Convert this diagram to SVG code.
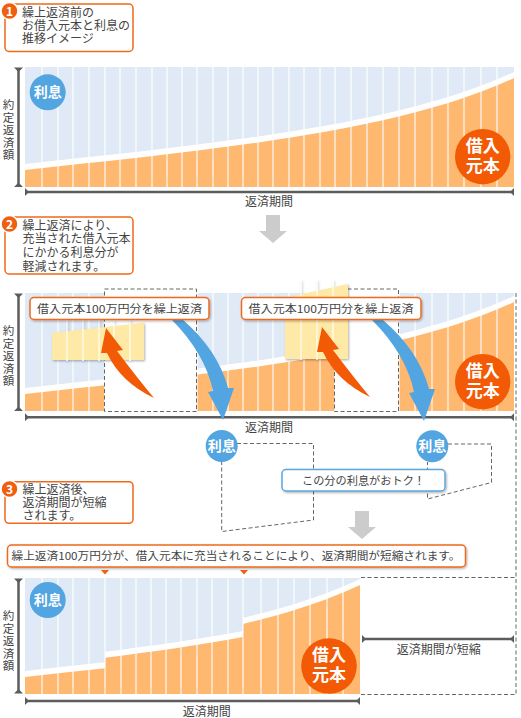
<svg xmlns="http://www.w3.org/2000/svg" xmlns:xlink="http://www.w3.org/1999/xlink" width="521" height="718" viewBox="0 0 521 718">
<style>
text{font-family:"Noto Sans CJK JP","Noto Sans CJK SC",sans-serif;fill:#444}
.t12{font-size:12px}
.t11{font-size:11px}
.sx{font-size:12px}
.vt{font-size:11.5px;writing-mode:vertical-rl;letter-spacing:1px}
.c{text-anchor:middle}
.box{fill:#fff;stroke:#ef6a1a;stroke-width:1.5}
.bbox{fill:#fff;stroke:#5aa6e0;stroke-width:1.5}
.axis{stroke:#5c5c5c;stroke-width:2.5;fill:none}
.mk{fill:#5c5c5c}
.dash{fill:none;stroke:#666;stroke-width:1;stroke-dasharray:4 2.5}
.wdash{fill:#fff;stroke:#666;stroke-width:1;stroke-dasharray:4 2.5}
.bg{fill:#dfeaf6}
.or{fill:#ffb870}
.wt{fill:#fff}
.st{stroke:#fff;stroke-width:1.3;opacity:.85;fill:none}
.ci{fill:#52a5e1}
.co{fill:#f25a05}
.wl{fill:#fff;font-weight:bold}
.yl{fill:#ffe9a6}
.ga{fill:#cccccc}
.ba{fill:#52a5e1}
.oa{fill:#f25a05}
.num{fill:#f05f10;stroke:#fff;stroke-width:1.5}
</style>
<defs>
<filter id="sh" x="-10%" y="-30%" width="130%" height="170%"><feDropShadow dx="1" dy="1.2" stdDeviation="0.8" flood-color="#000" flood-opacity="0.3"/></filter>
<g id="curve"><path class="wt" d="M25,187V164C210,144 400,126 514,72V187Z"/><path class="or" d="M25,187V170C210,150 400,132 514,78V187Z"/></g>
<path id="st1" class="st" d="M42,0V120M58,0V120M73,0V120M89,0V120M105,0V120M120,0V120M136,0V120M152,0V120M167,0V120M182,0V120M197,0V120M213,0V120M228,0V120M243,0V120M258,0V120M273,0V120M289,0V120M304,0V120M320,0V120M335,0V120M351,0V120M367,0V120M383,0V120M399,0V120M415,0V120M432,0V120M448,0V120M464,0V120M481,0V120M497,0V120"/>
<clipPath id="cA"><rect x="25" y="0" width="80" height="200"/></clipPath>
<clipPath id="cB"><rect x="197" y="0" width="138" height="200"/></clipPath>
<clipPath id="cC"><rect x="397" y="0" width="117" height="200"/></clipPath>
</defs>

<!-- Section 1 -->
<g id="section1">
<rect class="box" x="5" y="4" width="128" height="47.5" rx="4"/>
<circle class="num" cx="9.5" cy="11" r="8.5"/>
<text class="wl c" x="9.5" y="15.5" font-size="12">1</text>
<text class="sx" x="22" y="17">繰上返済前の</text>
<text class="sx" x="22" y="30">お借入元本と利息の</text>
<text class="sx" x="22" y="43">推移イメージ</text>
</g>

<!-- Chart 1 -->
<g id="chart1">
<rect class="bg" x="25" y="67" width="489" height="120"/>
<use xlink:href="#curve"/>
<use xlink:href="#st1" transform="translate(0,67)"/>
<path class="axis" d="M18.5,68V187M25,192H514"/>
<path class="mk" d="M14,67.5H23L18.5,72ZM14,187H23L18.5,182.5ZM25,188V196L29,192ZM514,188V196L510,192Z"/>
<text class="vt" x="8.5" y="99">約定返済額</text>
<text class="t12 c" x="269" y="206">返済期間</text>
<circle class="ci" cx="47.7" cy="92.3" r="18"/>
<text class="wl c" x="47.7" y="97.3" font-size="14">利息</text>
<circle class="co" cx="482.7" cy="156.7" r="27.7"/>
<text class="wl c" x="482.7" y="151.7" font-size="17">借入</text>
<text class="wl c" x="482.7" y="171.7" font-size="17">元本</text>
</g>

<!-- Section 2 -->
<g id="section2">
<rect class="box" x="5" y="217" width="128" height="57" rx="4"/>
<circle class="num" cx="9.5" cy="224" r="8.5"/>
<text class="wl c" x="9.5" y="228.5" font-size="12">2</text>
<text class="sx" x="22.5" y="229.5">繰上返済により、</text>
<text class="sx" x="22.5" y="243.3">充当された借入元本</text>
<text class="sx" x="22.5" y="257.1">にかかる利息分が</text>
<text class="sx" x="22.5" y="270.9">軽減されます。</text>
</g>

<!-- Chart 2 -->
<g id="chart2">
<rect class="bg" x="25" y="293" width="489" height="118"/>
<g transform="translate(0,224)"><use xlink:href="#curve"/></g>
<use xlink:href="#st1" transform="translate(0,293)"/>
<rect class="wdash" x="104.5" y="289" width="92" height="122.5"/>
<rect class="wdash" x="334.5" y="289" width="64" height="122.5"/>
<path class="axis" d="M18.5,294V411M25,417.3H514"/>
<path class="mk" d="M14,293.5H23L18.5,298ZM14,411H23L18.5,406.5ZM25,413.3V421.3L29,417.3ZM514,413.3V421.3L510,417.3Z"/>
<text class="vt" x="8.5" y="325">約定返済額</text>
<text class="t12 c" x="269" y="432">返済期間</text>
<circle class="co" cx="482.7" cy="381.7" r="27.7"/>
<text class="wl c" x="482.7" y="376.7" font-size="17">借入</text>
<text class="wl c" x="482.7" y="396.7" font-size="17">元本</text>
</g>

<!-- Lifted blocks -->
<g id="block1" filter="url(#sh)">
<path class="yl" d="M52,333L144,322.7V360H52Z"/>
<path class="st" d="M67,320V361M83,320V361M99,320V361M114,320V361M130,320V361"/>
</g>
<g id="block2" filter="url(#sh)">
<path class="yl" d="M285,298L348,284V359H285Z"/>
<path class="st" d="M301,280V360M317,280V360M333,280V360"/>
</g>

<!-- Connectors -->
<g id="connectors">
<path class="ga" d="M266,215H280V231H287L273,243L259,231H266Z"/>
<path class="ga" d="M266,215H280V231H287L273,243L259,231H266Z" transform="translate(89,296)"/>
<path class="oa" d="M154,398Q138.5,379.5 117,351L123,350L106,328L101,353L107,353Q120.5,382 154,398Z"/>
<path class="oa" d="M154,398Q138.5,379.5 117,351L123,350L106,328L101,353L107,353Q120.5,382 154,398Z" transform="translate(216,-1)"/>
<path class="ba" d="M171,319L182,319Q218,350 228,388L234,388L223,420L208,392L213,391Q205,353 171,319Z"/>
<path class="ba" d="M171,319L182,319Q218,350 228,388L234,388L223,420L208,392L213,391Q205,353 171,319Z" transform="translate(201,1)"/>
<path class="dash" d="M237,443.5H313.5V520L221.7,531.5V462"/>
<path class="dash" d="M448,444H491.5V482.5L427.5,499V462"/>
<path class="dash" d="M516,293V694.5H361M361,577.5H516"/>
</g>

<!-- Labels -->
<g id="label1">
<rect class="box" x="30" y="297.5" width="179" height="22" rx="4" filter="url(#sh)"/>
<text class="t11 c" x="119.5" y="312.5" textLength="165" lengthAdjust="spacingAndGlyphs">借入元本100万円分を繰上返済</text>
</g>
<g id="label2">
<rect class="box" x="241.5" y="297.5" width="179.5" height="22" rx="4" filter="url(#sh)"/>
<text class="t11 c" x="331" y="312.5" textLength="165" lengthAdjust="spacingAndGlyphs">借入元本100万円分を繰上返済</text>
</g>

<!-- Interest bubbles -->
<g id="bubble1">
<circle class="ci" cx="221.7" cy="446" r="16"/>
<text class="wl c" x="221.7" y="451" font-size="14">利息</text>
</g>
<g id="bubble2">
<circle class="ci" cx="432.3" cy="446.3" r="16"/>
<text class="wl c" x="432.3" y="451.3" font-size="14">利息</text>
</g>
<g id="otoku">
<rect class="bbox" x="282" y="469.5" width="163" height="21.5" rx="4" filter="url(#sh)"/>
<text class="t11 c" x="363.5" y="484.5" textLength="123" lengthAdjust="spacingAndGlyphs">この分の利息がおトク！</text>
</g>

<!-- Section 3 -->
<g id="section3">
<rect class="box" x="5" y="481.7" width="128" height="41.6" rx="4"/>
<circle class="num" cx="9.5" cy="489" r="8.5"/>
<text class="wl c" x="9.5" y="493.5" font-size="12">3</text>
<text class="sx" x="22.5" y="494.3">繰上返済後、</text>
<text class="sx" x="22.5" y="507.2">返済期間が短縮</text>
<text class="sx" x="22.5" y="520">されます。</text>
</g>

<!-- Banner -->
<g id="banner">
<rect class="box" x="7.5" y="545" width="458" height="22" rx="4" filter="url(#sh)"/>
<text class="t11" x="11.5" y="560" textLength="449" lengthAdjust="spacingAndGlyphs">繰上返済100万円分が、借入元本に充当されることにより、返済期間が短縮されます。</text>
<path fill="#f05f10" d="M101,570H109L105,574.5ZM240,570H248L244,574.5Z"/>
</g>

<!-- Chart 3 -->
<g id="chart3">
<rect class="bg" x="25" y="578" width="335" height="116"/>
<g transform="translate(0,507)"><use xlink:href="#curve" clip-path="url(#cA)"/></g>
<g transform="translate(-92,507)"><use xlink:href="#curve" clip-path="url(#cB)"/></g>
<g transform="translate(-154,507)"><use xlink:href="#curve" clip-path="url(#cC)"/></g>
<path class="st" d="M42,578V694M58,578V694M73,578V694M89,578V694M105,578V694M121,578V694M136,578V694M151,578V694M166,578V694M181,578V694M197,578V694M212,578V694M228,578V694M243,578V694M261,578V694M278,578V694M294,578V694M310,578V694M327,578V694M343,578V694"/>
<path class="axis" d="M18.5,579V693M25,701H360"/>
<path class="mk" d="M14,578.5H23L18.5,583ZM14,693.5H23L18.5,689ZM25,697V705L29,701ZM360,697V705L356,701Z"/>
<text class="vt" x="8.5" y="610">約定返済額</text>
<text class="t12 c" x="206.7" y="716">返済期間</text>
<circle class="ci" cx="47.7" cy="600" r="18"/>
<text class="wl c" x="47.7" y="605" font-size="14">利息</text>
<circle class="co" cx="329" cy="666" r="27.8"/>
<text class="wl c" x="329" y="661" font-size="17">借入</text>
<text class="wl c" x="329" y="681" font-size="17">元本</text>
<path class="axis" d="M363,639H514"/>
<path class="mk" d="M362,635V643L366,639ZM514,635V643L510,639Z"/>
<text class="t12 c" x="438.7" y="653.5">返済期間が短縮</text>
</g>
</svg>
